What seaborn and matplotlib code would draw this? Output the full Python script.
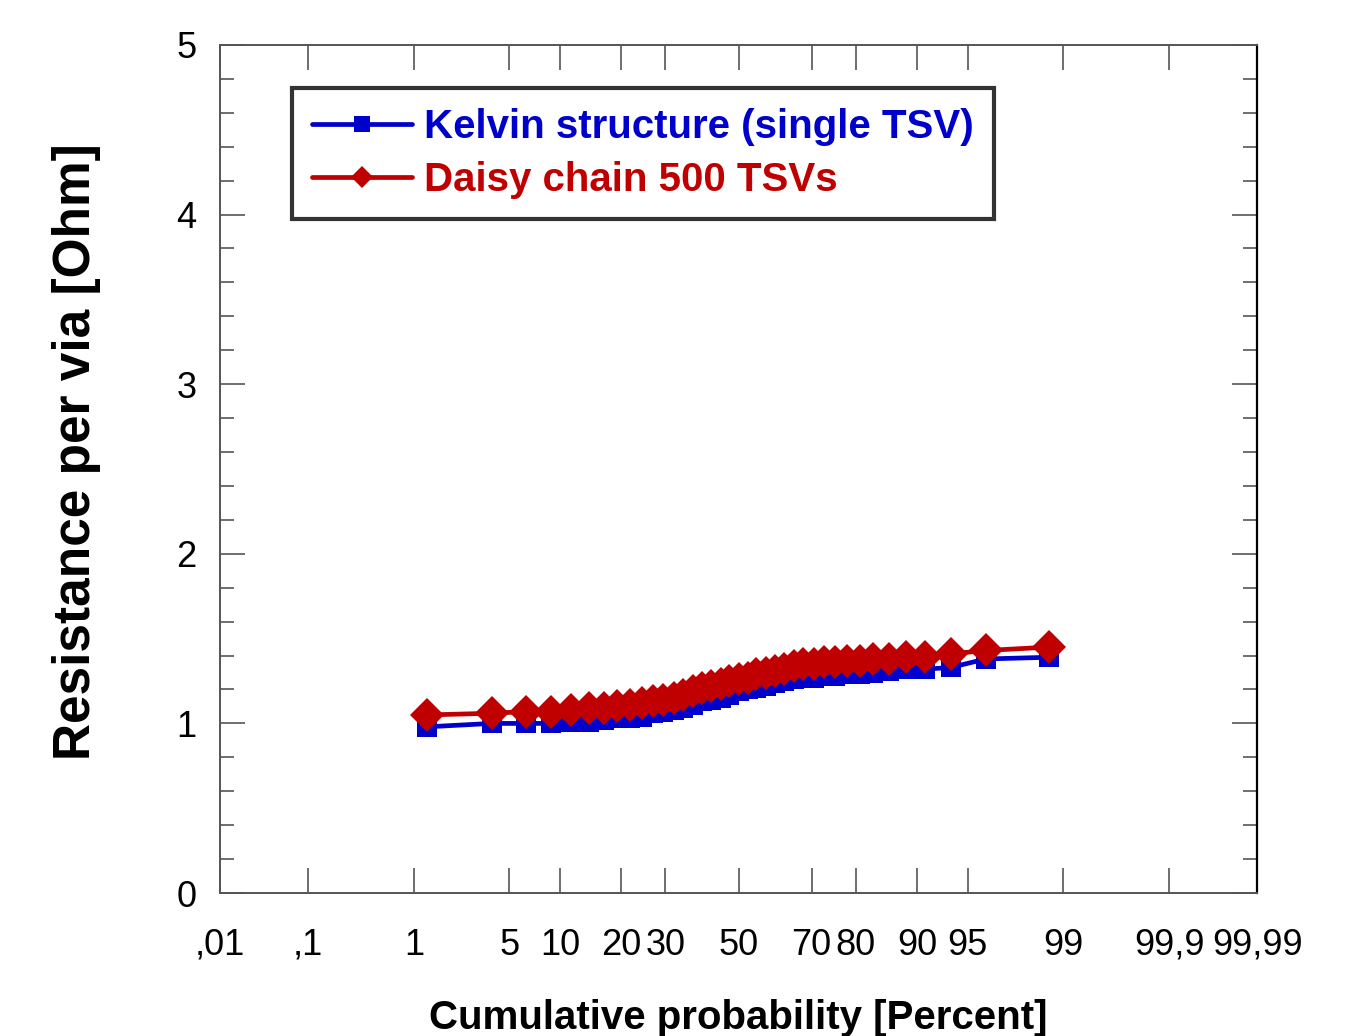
import numpy as np
import pandas as pd
import matplotlib
matplotlib.use("Agg")
import matplotlib.pyplot as plt
import seaborn as sns
from statistics import NormalDist

prob = [1.28, 3.85, 6.41, 8.97, 11.5, 14.1, 16.7, 19.2, 21.8, 24.4, 26.9, 29.5, 32.1,
        34.6, 37.2, 39.7, 42.3, 44.9, 47.4, 50.0, 52.6, 55.1, 57.7, 60.3, 62.8, 65.4,
        67.9, 70.5, 73.1, 75.6, 78.2, 80.8, 83.3, 85.9, 88.5, 91.0, 93.6, 96.2, 98.7]
kelvin = [0.98, 1.00, 1.00, 1.00, 1.01, 1.01, 1.02, 1.03, 1.03, 1.04, 1.06, 1.07, 1.08,
          1.09, 1.11, 1.13, 1.14, 1.15, 1.17, 1.19, 1.20, 1.21, 1.22, 1.24, 1.25, 1.26,
          1.27, 1.27, 1.28, 1.28, 1.29, 1.29, 1.30, 1.31, 1.32, 1.32, 1.33, 1.38, 1.39]
daisy = [1.05, 1.06, 1.07, 1.07, 1.08, 1.09, 1.09, 1.10, 1.11, 1.12, 1.13, 1.14, 1.15,
         1.17, 1.19, 1.21, 1.22, 1.23, 1.25, 1.26, 1.27, 1.29, 1.30, 1.31, 1.32, 1.34,
         1.35, 1.35, 1.36, 1.36, 1.37, 1.37, 1.38, 1.38, 1.39, 1.39, 1.41, 1.43, 1.45]

xticks = [0.01, 0.1, 1, 5, 10, 20, 30, 50, 70, 80, 90, 95, 99, 99.9, 99.99]
xticklabels = [",01", ",1", "1", "5", "10", "20", "30", "50", "70", "80", "90", "95",
               "99", "99,9", "99,99"]

BLUE = "#0000CC"
RED = "#C00000"

# normal probability scale (percent -> z)
_nd = NormalDist()
_ppf = np.vectorize(lambda p: _nd.inv_cdf(min(max(p / 100.0, 1e-9), 1 - 1e-9)), otypes=[float])
_cdf = np.vectorize(lambda z: _nd.cdf(z) * 100.0, otypes=[float])


def forward(p):
    return _ppf(np.asarray(p, dtype=float))


def inverse(z):
    return _cdf(np.asarray(z, dtype=float))


sns.set_style("ticks")
plt.rcParams["font.family"] = ["Liberation Sans", "DejaVu Sans"]
plt.rcParams["text.color"] = "black"
plt.rcParams["axes.labelcolor"] = "black"
plt.rcParams["xtick.labelcolor"] = "black"
plt.rcParams["ytick.labelcolor"] = "black"

fig = plt.figure(figsize=(13.53, 10.36), dpi=100)
ax = fig.add_axes([0.1626, 0.138, 0.7665, 0.8186])
ax.set_xscale("function", functions=(forward, inverse))

df = pd.DataFrame({"p": prob + prob,
                   "r": kelvin + daisy,
                   "s": ["Kelvin structure (single TSV)"] * len(prob) + ["Daisy chain 500 TSVs"] * len(prob)})

sns.lineplot(data=df[df.s == "Kelvin structure (single TSV)"], x="p", y="r", ax=ax,
             color=BLUE, marker="s", markersize=14, markeredgewidth=0, linewidth=3.4,
             sort=False, estimator=None, label="Kelvin structure (single TSV)")
sns.lineplot(data=df[df.s == "Daisy chain 500 TSVs"], x="p", y="r", ax=ax,
             color=RED, marker="D", markersize=17, markeredgewidth=0, linewidth=3.4,
             sort=False, estimator=None, label="Daisy chain 500 TSVs")

ax.set_xlim(0.01, 99.99)
ax.set_ylim(0, 5)
ax.set_xticks(xticks)
ax.set_xticklabels(xticklabels)
ax.xaxis.set_minor_locator(matplotlib.ticker.NullLocator())
ax.set_yticks([0, 1, 2, 3, 4, 5])
ax.set_yticks(np.arange(0, 5.01, 0.2), minor=True)

ax.tick_params(axis="both", which="major", direction="in", length=18, width=1.2,
               color="#555555", labelsize=26, top=True, right=True)
ax.tick_params(axis="y", which="minor", direction="in", length=10, width=1.2,
               color="#555555", right=True)
ax.tick_params(axis="x", which="major", pad=25)
ax.tick_params(axis="y", which="major", pad=17)
for side in ["left", "bottom", "top"]:
    ax.spines[side].set_color("#555555")
    ax.spines[side].set_linewidth(1.4)
ax.spines["right"].set_color("black")
ax.spines["right"].set_linewidth(1.6)

ax.set_xlabel("Cumulative probability [Percent]", fontsize=29, fontweight="bold")
ax.set_ylabel("Resistance per via [Ohm]", fontsize=37, fontweight="bold")
ax.xaxis.set_label_coords(0.5, -0.125)
ax.yaxis.set_label_coords(-0.115, 0.52)

leg = ax.legend(loc="upper left", bbox_to_anchor=(0.069, 0.949), borderaxespad=0,
                frameon=True, fancybox=False, handlelength=2.5, handletextpad=0.3,
                borderpad=0.5, labelspacing=0.36, prop={"size": 29, "weight": "bold"})
leg.get_frame().set_edgecolor("black")
leg.get_frame().set_linewidth(3)
for txt, col in zip(leg.get_texts(), [BLUE, RED]):
    txt.set_color(col)
for h in leg.legend_handles:
    h.set_markersize(11)
    h.set_linewidth(3.4)

fig.savefig("out.png", dpi=100)
